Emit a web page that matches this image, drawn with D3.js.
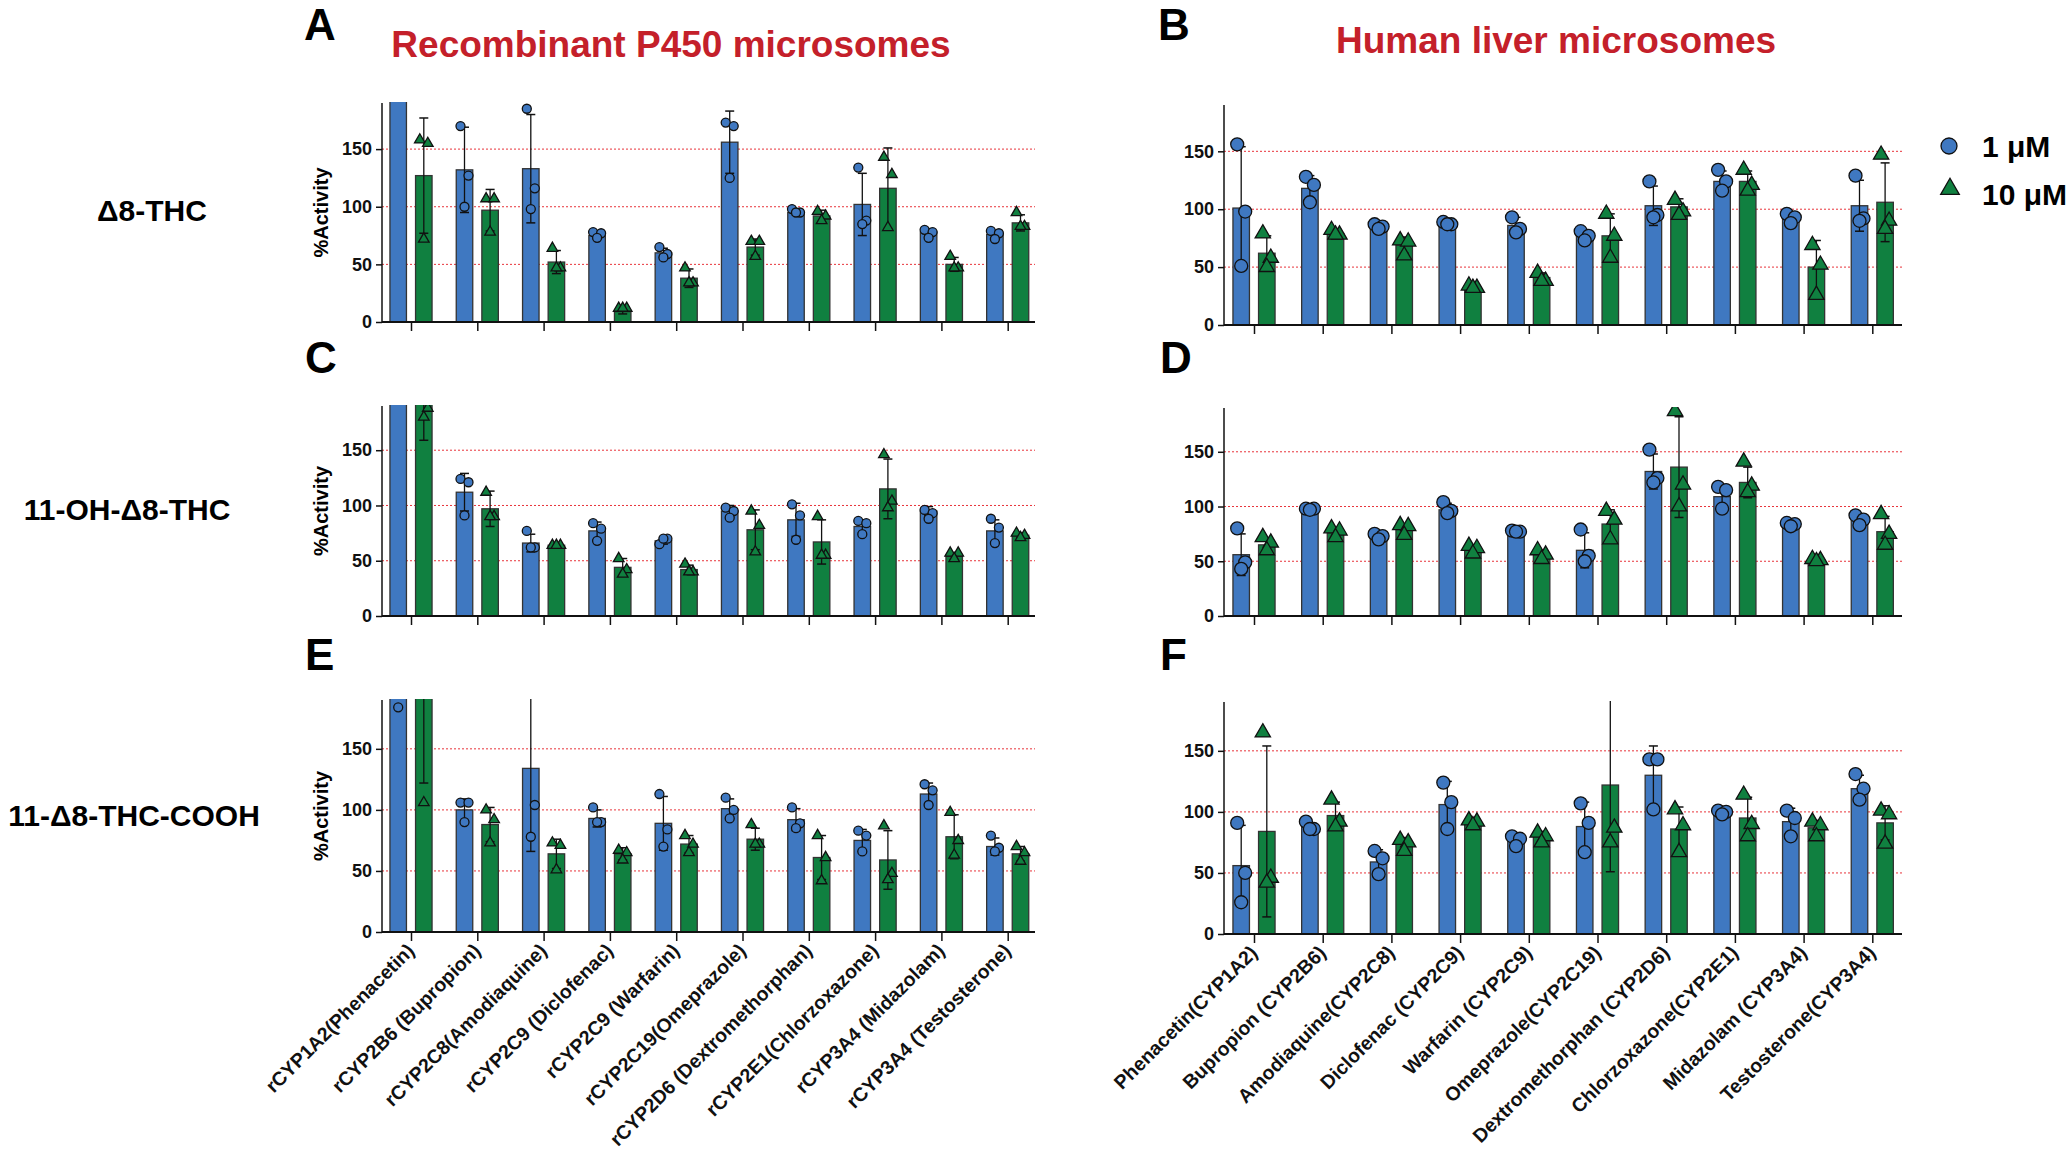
<!DOCTYPE html>
<html><head><meta charset="utf-8">
<script src="https://cdn.jsdelivr.net/npm/d3@7"></script>
<style>body{margin:0;background:#fff}</style></head>
<body><svg id="c" width="2072" height="1150"></svg>
<script>
const catsR = ["rCYP1A2(Phenacetin)","rCYP2B6 (Bupropion)","rCYP2C8(Amodiaquine)","rCYP2C9 (Diclofenac)","rCYP2C9 (Warfarin)","rCYP2C19(Omeprazole)","rCYP2D6 (Dextromethorphan)","rCYP2E1(Chlorzoxazone)","rCYP3A4 (Midazolam)","rCYP3A4 (Testosterone)"];
const catsH = ["Phenacetin(CYP1A2)","Bupropion (CYP2B6)","Amodiaquine(CYP2C8)","Diclofenac (CYP2C9)","Warfarin (CYP2C9)","Omeprazole(CYP2C19)","Dextromethorphan (CYP2D6)","Chlorzoxazone(CYP2E1)","Midazolam (CYP3A4)","Testosterone(CYP3A4)"];
const yTicks = [0,50,100,150];
const rowLabels = ["Δ8-THC","11-OH-Δ8-THC","11-Δ8-THC-COOH"];
const seriesNames = ["1 μM","10 μM"];

// Panel A
const A_mean1 = [300,132,133,75,60,156,95,102,78,76];
const A_sd1   = [60,37,47,3,4,27,2,27,3,3];
const A_pts1  = [[300,300,300],[170,127,100],[185,116,98],[78,77,73],[65,59,56],[173,170,125],[98,95,95],[134,88,85],[80,78,73],[79,77,72]];
const A_mean10= [127,97,52,9,38,65,92,116,50,86];
const A_sd10  = [50,18,10,2,8,7,5,35,6,7];
const A_pts10 = [[158,155,72],[107,107,78],[64,47,47],[12,12,12],[47,34,34],[70,70,57],[96,92,88],[143,128,82],[57,47,47],[95,83,83]];
// Panel B
const B_mean1 = [101,118,84,87,86,77,103,124,92,103];
const B_sd1   = [53,11,3,2,7,4,17,9,4,22];
const B_pts1  = [[156,98,51],[128,121,106],[87,85,83],[89,87,87],[93,83,80],[81,77,73],[124,95,93],[134,124,116],[96,93,88],[129,92,90]];
const B_mean10= [62,79,69,32,41,77,102,124,50,106];
const B_sd10  = [15,3,7,2,4,19,7,9,23,34];
const B_pts10 = [[79,58,50],[82,78,78],[73,72,60],[34,32,32],[45,38,38],[96,77,58],[108,98,95],[134,121,116],[69,52,26],[147,90,83]];
// Panel C
const C_mean1 = [300,112,66,77,68,95,87,81,95,77];
const C_sd1   = [60,17,8,8,3,5,15,6,4,10];
const C_pts1  = [[300,300,300],[124,121,91],[77,62,62],[84,79,68],[65,70,70],[98,95,89],[101,91,69],[86,84,74],[96,93,88],[88,80,66]];
const C_mean10= [206,97,64,44,42,78,67,115,54,73];
const C_sd10  = [47,16,1,8,4,18,20,27,3,2];
const C_pts10 = [[250,188,180],[112,90,90],[64,64,64],[52,42,38],[47,40,40],[95,82,58],[90,55,55],[146,104,98],[57,57,52],[75,73,71]];
// Panel D
const D_mean1 = [56,99,75,97,77,60,132,109,84,87];
const D_sd1   = [19,1,3,6,1,16,16,11,2,5];
const D_pts1  = [[80,49,43],[98,98,97],[75,73,70],[104,96,94],[78,77,77],[79,55,50],[152,126,122],[118,115,98],[85,84,82],[92,88,83]];
const D_mean10= [65,76,79,61,56,84,136,122,51,77];
const D_sd10  = [6,4,5,4,4,13,46,14,2,14];
const D_pts10 = [[72,67,60],[80,78,72],[83,82,74],[64,62,57],[60,56,52],[96,88,70],[187,120,100],[141,119,113],[52,51,50],[93,75,65]];
// Panel E
const E_mean1 = [255,100,134,93,89,101,92,75,113,70];
const E_sd1   = [60,9,68,7,22,8,9,9,9,7];
const E_pts1  = [[300,280,184],[106,106,90],[220,104,78],[102,90,90],[113,84,70],[110,100,93],[102,89,85],[83,79,66],[121,116,104],[79,69,66]];
const E_mean10= [232,88,64,64,72,76,61,59,78,64];
const E_sd10  = [110,14,12,5,7,9,18,24,18,6];
const E_pts10 = [[300,290,106],[100,92,73],[73,71,51],[67,65,59],[79,72,65],[88,72,72],[79,61,42],[87,48,43],[98,75,63],[70,65,58]];
// Panel F
const F_mean1 = [56,88,59,106,76,88,130,100,92,119];
const F_sd1   = [33,3,10,19,4,20,24,2,11,11];
const F_pts1  = [[91,50,26],[92,86,86],[68,62,49],[124,108,86],[80,78,72],[107,91,67],[143,143,102],[101,100,98],[101,95,80],[131,119,110]];
const F_mean10= [84,97,74,91,80,122,86,95,87,91];
const F_sd10  = [70,11,5,2,4,71,18,17,6,14];
const F_pts10 = [[165,46,42],[110,92,88],[77,75,68],[93,92,89],[83,80,75],[204,87,75],[102,89,67],[114,90,80],[92,89,80],[101,98,74]];

const BLUE="#3f78c1", GREEN="#108040", RED="#c4202a";
const svg = d3.select("#c");
const bold = "bold";
const narrow = "'Liberation Sans Narrow','Liberation Sans',Arial,sans-serif";
const sans = "'Liberation Sans',Arial,sans-serif";

const panels = [
 {id:"A",x0:382,x1:1035,yt:103,yb:322,first:411,step:66.3,cats:catsR,m1:A_mean1,s1:A_sd1,p1:A_pts1,m2:A_mean10,s2:A_sd10,p2:A_pts10,r:4.5,left:true,labels:false,letter:[304,40]},
 {id:"B",x0:1224,x1:1902,yt:105,yb:325,first:1254,step:68.7,cats:catsH,m1:B_mean1,s1:B_sd1,p1:B_pts1,m2:B_mean10,s2:B_sd10,p2:B_pts10,r:6.5,left:false,labels:false,letter:[1158,40]},
 {id:"C",x0:382,x1:1035,yt:406,yb:616,first:411,step:66.3,cats:catsR,m1:C_mean1,s1:C_sd1,p1:C_pts1,m2:C_mean10,s2:C_sd10,p2:C_pts10,r:4.5,left:true,labels:false,letter:[305,373]},
 {id:"D",x0:1224,x1:1902,yt:408,yb:616,first:1254,step:68.7,cats:catsH,m1:D_mean1,s1:D_sd1,p1:D_pts1,m2:D_mean10,s2:D_sd10,p2:D_pts10,r:6.5,left:false,labels:false,letter:[1160,373]},
 {id:"E",x0:382,x1:1035,yt:700,yb:932,first:411,step:66.3,cats:catsR,m1:E_mean1,s1:E_sd1,p1:E_pts1,m2:E_mean10,s2:E_sd10,p2:E_pts10,r:4.5,left:true,labels:true,letter:[305,670]},
 {id:"F",x0:1224,x1:1902,yt:702,yb:934,first:1254,step:68.7,cats:catsH,m1:F_mean1,s1:F_sd1,p1:F_pts1,m2:F_mean10,s2:F_sd10,p2:F_pts10,r:6.5,left:false,labels:true,letter:[1160,670]}
];
const jit = [-4,4,0];

panels.forEach(P=>{
  const g = svg.append("g");
  const y = d3.scaleLinear().domain([0,190]).range([P.yb,P.yt]);
  const x = d3.scalePoint().domain(P.cats).range([P.first,P.first+9*P.step]);
  const bw = 16.5, off = 12.8;
  g.append("defs").append("clipPath").attr("id","cl"+P.id).append("rect")
    .attr("x",P.x0).attr("y",P.yt-1).attr("width",P.x1-P.x0).attr("height",P.yb-P.yt+1);
  g.selectAll(".gr").data([50,100,150]).join("line")
    .attr("x1",P.x0).attr("x2",P.x1).attr("y1",d=>y(d)).attr("y2",d=>y(d))
    .attr("stroke","#e8333a").attr("stroke-width",1).attr("stroke-dasharray","2,2");
  const pl = g.append("g").attr("clip-path",`url(#cl${P.id})`);
  const series = [
    {m:P.m1,s:P.s1,p:P.p1,dx:-off,col:BLUE,shape:"c"},
    {m:P.m2,s:P.s2,p:P.p2,dx:off,col:GREEN,shape:"t"}];
  series.forEach(S=>{
    P.cats.forEach((c,i)=>{
      const cx = x(c)+S.dx;
      pl.append("rect").attr("x",cx-bw/2).attr("width",bw)
        .attr("y",y(S.m[i])).attr("height",P.yb-y(S.m[i]))
        .attr("fill",S.col).attr("stroke","#333").attr("stroke-width",1.3);
      const lo=y(S.m[i]-S.s[i]), hi=y(S.m[i]+S.s[i]);
      pl.append("line").attr("x1",cx).attr("x2",cx).attr("y1",lo).attr("y2",hi).attr("stroke","#111").attr("stroke-width",1.3);
      [lo,hi].forEach(v=>pl.append("line").attr("x1",cx-4.5).attr("x2",cx+4.5).attr("y1",v).attr("y2",v).attr("stroke","#111").attr("stroke-width",1.5));
      S.p[i].forEach((v,k)=>{
        const px=cx+jit[k], py=y(v);
        if(S.shape==="c"){
          pl.append("circle").attr("cx",px).attr("cy",py).attr("r",P.r).attr("fill",S.col).attr("stroke","#111").attr("stroke-width",1.3);
        } else {
          pl.append("path").attr("d",d3.symbol(d3.symbolTriangle,P.r*P.r*2.4)()).attr("transform",`translate(${px},${py})`)
            .attr("fill",S.col).attr("stroke","#111").attr("stroke-width",1.3);
        }
      });
    });
  });
  const ya = g.append("g").attr("transform",`translate(${P.x0},0)`).call(d3.axisLeft(y).tickValues(yTicks).tickSize(6).tickSizeOuter(0));
  ya.select(".domain").attr("stroke","#111").attr("stroke-width",1.5).attr("d",`M0,${P.yb}V${P.yt}`);
  ya.selectAll(".tick line").attr("stroke","#111").attr("stroke-width",1.5);
  ya.selectAll("text").attr("font-family",narrow).attr("font-weight",bold).attr("font-size",18).attr("fill","#111").attr("dx",-1);
  const xa = g.append("g").attr("transform",`translate(0,${P.yb})`).call(d3.axisBottom(x).tickSize(9).tickSizeOuter(0));
  xa.select(".domain").attr("stroke","#111").attr("stroke-width",1.8).attr("d",`M${P.x0},0H${P.x1}`);
  xa.selectAll(".tick line").attr("stroke","#111").attr("stroke-width",1.5);
  if(P.labels){
    xa.selectAll("text").attr("font-family",sans).attr("font-weight",bold).attr("font-size",19.5).attr("fill","#111")
      .attr("text-anchor","end").attr("dy",0).attr("y",0).attr("transform","translate(4,20) rotate(-45)");
  } else xa.selectAll("text").remove();
  if(P.left){
    g.append("text").attr("transform",`translate(328,${(P.yt+P.yb)/2}) rotate(-90)`).attr("text-anchor","middle")
      .attr("font-family",sans).attr("font-weight",bold).attr("font-size",20).text("%Activity");
  }
  g.append("text").attr("x",P.letter[0]).attr("y",P.letter[1]).attr("font-family",sans).attr("font-weight",bold).attr("font-size",44).text(P.id);
});

svg.append("text").attr("x",671).attr("y",57).attr("text-anchor","middle").attr("fill",RED).attr("font-family",sans).attr("font-weight",bold).attr("font-size",37).text("Recombinant P450 microsomes");
svg.append("text").attr("x",1556).attr("y",53).attr("text-anchor","middle").attr("fill",RED).attr("font-family",sans).attr("font-weight",bold).attr("font-size",37).text("Human liver microsomes");
[[152,210],[127,509],[134,815]].forEach((d,i)=>svg.append("text").attr("x",d[0]).attr("y",d[1]+11).attr("text-anchor","middle").attr("font-family",sans).attr("font-weight",bold).attr("font-size",30).text(rowLabels[i]));
const lg = svg.append("g");
lg.append("circle").attr("cx",1949).attr("cy",146).attr("r",8).attr("fill",BLUE).attr("stroke","#111").attr("stroke-width",1.3);
lg.append("path").attr("d",d3.symbol(d3.symbolTriangle,150)()).attr("transform","translate(1950,189)").attr("fill",GREEN).attr("stroke","#111").attr("stroke-width",1.3);
seriesNames.forEach((s,i)=>lg.append("text").attr("x",1982).attr("y",[157,205][i]).attr("font-family",sans).attr("font-weight",bold).attr("font-size",30).text(s));
</script></body></html>
